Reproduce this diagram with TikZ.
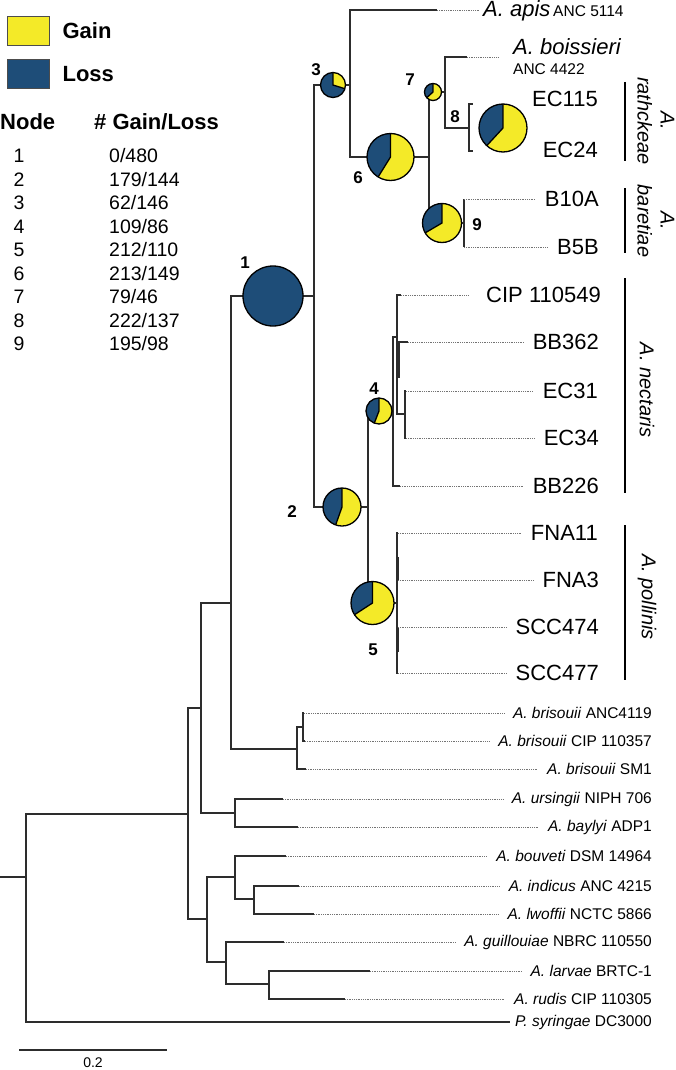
\documentclass[tikz,border=0pt]{standalone}
\usepackage{fontspec}
\setmainfont{Liberation Sans}
\usetikzlibrary{positioning}

\definecolor{gainyellow}{RGB}{244,234,40}
\definecolor{lossblue}{RGB}{30,77,120}
\definecolor{treegray}{RGB}{45,45,45}

\tikzset{
  branch/.style={draw=treegray, line width=1.3pt},
  leader/.style={draw=black!55, line width=0.6pt, dash pattern=on 0.6pt off 1.2pt, shorten >=9pt},
  bigleaf/.style={anchor=east, inner sep=0pt, font=\fontsize{22}{26}\selectfont},
  smallleaf/.style={anchor=east, inner sep=0pt, font=\fontsize{15.5}{18}\selectfont},
  cladelab/.style={rotate=-90, align=center, inner sep=0pt, font=\fontsize{20}{23}\selectfont\itshape},
  cladebar/.style={draw=black, line width=2.4pt},
  nodenum/.style={inner sep=0pt, font=\fontsize{17}{20}\selectfont\bfseries},
  pieline/.style={draw=black, line width=1.3pt},
  keybox/.style={draw=black!70, line width=0.8pt, minimum width=42pt, minimum height=29pt, inner sep=0pt},
  keytext/.style={inner sep=0pt, font=\fontsize{22}{26}\selectfont\bfseries},
  rowtext/.style={inner sep=0pt, font=\fontsize{19.5}{22}\selectfont},
}

% one pie per ancestral node: name, x, y, radius, gains, losses
\newcommand{\gainpie}[6]{%
  \node[circle, inner sep=0pt, minimum size={2*#4pt}, fill=lossblue] (#1) at (#2,#3) {};
  \fill[gainyellow] (#1.center) -- ++(90:#4pt) arc[start angle=90, delta angle={-360*(#5/(#5+#6))}, radius=#4pt] -- cycle;
  \draw[pieline] ([shift={(90:#4pt)}]#1.center) -- (#1.center) -- ++({90-360*(#5/(#5+#6))}:#4pt);
  \draw[pieline] (#1.center) circle[radius=#4pt];
}

\begin{document}
\begin{tikzpicture}[x=1pt,y=-1pt]
    \useasboundingbox (0,0) rectangle (676,1070);

    %%%%%%%%%%%%%%%%%%%%%%%%%%%%%%%%%%%%%%%%%%%%%%%%%%%%%%

    % legend
    \node[keybox, fill=gainyellow] (gainkey) at (28,30.5) {};
    \node[keytext, right=13pt of gainkey] (gaintext) {Gain};
    \node[keybox, fill=lossblue] (losskey) at (28,74) {};
    \node[keytext, right=13pt of losskey] (losstext) {Loss};

    % table of gains and losses
    \node[keytext, anchor=base west] (nodehead) at (0,130) {Node};
    \node[keytext, anchor=base west] (counthead) at (94,130) {\# Gain/Loss};
    \foreach \g/\l [count=\i] in {0/480,179/144,62/146,109/86,212/110,213/149,79/46,222/137,195/98}{
        \node[rowtext, anchor=base] (num\i) at (19,{162.5+23.5*(\i-1)}) {\i};
        \node[rowtext, anchor=base west] (val\i) at (109,{162.5+23.5*(\i-1)}) {\g/\l};
    }

    %%%%%%%%%%%%%%%%%%%%%%%%%%%%%%%%%%%%%%%%%%%%%%%%%%%%%%

    % inner nodes of the tree
    \coordinate (stub) at (0,877);
    \coordinate (root) at (26,877);
    \coordinate (ingroup) at (188,814);
    \coordinate (acn) at (201,708);
    \coordinate (lowgrp) at (207,919);
    \coordinate (nclade) at (231,603);
    \coordinate (ursb) at (235,813);
    \coordinate (bris) at (297,749);
    \coordinate (bri2) at (303,727);
    \coordinate (n1) at (314,296);
    \coordinate (n3) at (350,85);
    \coordinate (n6) at (429,157);
    \coordinate (n7) at (445,92);
    \coordinate (n8) at (469,128);
    \coordinate (n9) at (464,223);
    \coordinate (n2) at (368,507);
    \coordinate (n4) at (393,411);
    \coordinate (nec) at (397,337);
    \coordinate (ecp) at (405,414);
    \coordinate (n5) at (397,603);
    \coordinate (bouv) at (235,877);
    \coordinate (indl) at (254,899);
    \coordinate (guil) at (226,962);
    \coordinate (lr) at (269,984);

    % tips
    \coordinate (lapis) at (437,10);
    \coordinate (lbois) at (467,57);
    \coordinate (lec115) at (473,104);
    \coordinate (lec24) at (473,151);
    \coordinate (lb10a) at (464,199);
    \coordinate (lb5b) at (464,247);
    \coordinate (lcip) at (401,295);
    \coordinate (lbb362) at (408,342);
    \coordinate (lec31) at (406,391);
    \coordinate (lec34) at (406,438);
    \coordinate (lbb226) at (400,486);
    \coordinate (lfna11) at (398,533);
    \coordinate (lfna3) at (398,580);
    \coordinate (lscc474) at (398,627);
    \coordinate (lscc477) at (398,673);
    \coordinate (lanc) at (304,713);
    \coordinate (lcipb) at (305,741);
    \coordinate (lsm1) at (306,769);
    \coordinate (lurs) at (283,799);
    \coordinate (lbay) at (298,827);
    \coordinate (lbouv) at (286,856);
    \coordinate (lind) at (299,886);
    \coordinate (lwof) at (314,914);
    \coordinate (lgui) at (284,942);
    \coordinate (llar) at (370,971);
    \coordinate (lrud) at (345,999);

    % branches
    \draw[branch] (stub) -- (root);
    \foreach \p/\c in {root/ingroup, ingroup/acn, ingroup/lowgrp, acn/nclade, acn/ursb,
        nclade/n1, nclade/bris, n1/n3, n1/n2, n3/lapis, n3/n6, n6/n7, n6/n9,
        n7/lbois, n7/n8, n8/lec115, n8/lec24, n9/lb10a, n9/lb5b,
        n2/n4, n2/n5, n4/nec, n4/lbb226, nec/lcip, nec/lbb362, nec/ecp, ecp/lec31, ecp/lec34,
        n5/lfna11, n5/lfna3, n5/lscc474, n5/lscc477,
        bris/bri2, bris/lsm1, bri2/lanc, bri2/lcipb, ursb/lurs, ursb/lbay,
        lowgrp/bouv, lowgrp/guil, bouv/lbouv, bouv/indl, indl/lind, indl/lwof,
        guil/lgui, guil/lr, lr/llar, lr/lrud}
        \draw[branch] (\p) |- (\c);

    % short thick pieces where branches lie on each other
    \draw[branch, line width=2.2pt] (398.5,342) -- (398.5,378);
    \draw[branch, line width=2.2pt] (398,557) -- (398,580);
    \draw[branch, line width=2.2pt] (398,628) -- (398,652);

    %%%%%%%%%%%%%%%%%%%%%%%%%%%%%%%%%%%%%%%%%%%%%%%%%%%%%%

    % upper tips
    \node[anchor=base west, inner sep=0pt] (apis) at (483,17)
        {{\fontsize{22}{26}\selectfont\itshape A. apis} {\fontsize{15.5}{18}\selectfont ANC 5114}};
    \node[anchor=base west, inner sep=0pt, font=\fontsize{22}{26}\selectfont\itshape] (bois) at (513,55) {A. boissieri};
    \node[anchor=base west, inner sep=0pt, font=\fontsize{15.5}{18}\selectfont] (boisstrain) at (513,75) {ANC 4422};
    \node[bigleaf] (ec115) at (598,99) {EC115};
    \node[bigleaf] (ec24) at (598,150) {EC24};
    \node[bigleaf] (b10a) at (599,199) {B10A};
    \node[bigleaf] (b5b) at (599,247) {B5B};
    \node[bigleaf] (cip) at (601,295) {CIP 110549};
    \node[bigleaf] (bb362) at (599,342) {BB362};
    \node[bigleaf] (ec31) at (598,391) {EC31};
    \node[bigleaf] (ec34) at (599,438) {EC34};
    \node[bigleaf] (bb226) at (599,486) {BB226};
    \node[bigleaf] (fna11) at (598,533) {FNA11};
    \node[bigleaf] (fna3) at (599,580) {FNA3};
    \node[bigleaf] (scc474) at (599,627) {SCC474};
    \node[bigleaf] (scc477) at (599,673) {SCC477};

    % lower tips
    \node[smallleaf] (anc) at (652,713) {\textit{A. brisouii} ANC4119};
    \node[smallleaf] (cipb) at (652,741) {\textit{A. brisouii} CIP 110357};
    \node[smallleaf] (sm1) at (652,769) {\textit{A. brisouii} SM1};
    \node[smallleaf] (urs) at (652,799) {\textit{A. ursingii} NIPH 706};
    \node[smallleaf] (bay) at (652,827) {\textit{A. baylyi} ADP1};
    \node[smallleaf] (bouveti) at (652,856) {\textit{A. bouveti} DSM 14964};
    \node[smallleaf] (ind) at (652,886) {\textit{A. indicus} ANC 4215};
    \node[smallleaf] (lwo) at (652,914) {\textit{A. lwoffii} NCTC 5866};
    \node[smallleaf] (gui) at (652,942) {\textit{A. guillouiae} NBRC 110550};
    \node[smallleaf] (lar) at (652,971) {\textit{A. larvae} BRTC-1};
    \node[smallleaf] (rud) at (652,999) {\textit{A. rudis} CIP 110305};
    \node[smallleaf] (syr) at (652,1022) {\textit{P. syringae} DC3000};

    % outgroup runs solid up to its name
    \draw[branch, shorten >=5pt] (root) |- (syr.west);

    % dotted leaders
    \draw[leader, shorten >=3pt] (lapis) -- (apis.west |- lapis);
    \draw[leader, shorten >=15pt] (lbois) -- (bois.west |- lbois);
    \draw[leader, shorten >=18pt] (lcip) -- (cip.west |- lcip);
    \foreach \t/\n in {lb10a/b10a, lb5b/b5b, lbb362/bb362, lec31/ec31, lec34/ec34, lbb226/bb226,
        lfna11/fna11, lfna3/fna3, lscc474/scc474, lscc477/scc477,
        lanc/anc, lcipb/cipb, lsm1/sm1, lurs/urs, lbay/bay, lbouv/bouveti,
        lind/ind, lwof/lwo, lgui/gui, llar/lar, lrud/rud}
        \draw[leader] (\t) -- (\n.west |- \t);

    %%%%%%%%%%%%%%%%%%%%%%%%%%%%%%%%%%%%%%%%%%%%%%%%%%%%%%

    % species bars
    \coordinate (rathA) at (625,82);
    \coordinate (rathB) at (625,161);
    \coordinate (bareA) at (625,188);
    \coordinate (bareB) at (625,253);
    \coordinate (necA) at (625,278);
    \coordinate (necB) at (625,493);
    \coordinate (polA) at (625,525);
    \coordinate (polB) at (625,680);
    \draw[cladebar] (rathA) -- (rathB);
    \draw[cladebar] (bareA) -- (bareB);
    \draw[cladebar] (necA) -- (necB);
    \draw[cladebar] (polA) -- (polB);
    \node[cladelab] (rathlab) at (656,121) {A.\\rathckeae};
    \node[cladelab] (barelab) at (656,221) {A.\\baretiae};
    \node[cladelab] (neclab) at (647,390) {A. nectaris};
    \node[cladelab] (pollab) at (647,597) {A. pollinis};

    %%%%%%%%%%%%%%%%%%%%%%%%%%%%%%%%%%%%%%%%%%%%%%%%%%%%%%

    % gains and losses on the nodes
    \node[circle, inner sep=0pt, minimum size=60pt, fill=lossblue] (pie1) at (273,296) {};
    \draw[pieline] (pie1.center) circle[radius=30pt];
    \gainpie{pie2}{342}{507}{19}{179}{144}
    \gainpie{pie3}{333}{85}{12.5}{62}{146}
    \gainpie{pie4}{379}{411}{13}{109}{86}
    \gainpie{pie5}{372.5}{603}{21.5}{212}{110}
    \gainpie{pie6}{390.5}{157}{23.5}{213}{149}
    \gainpie{pie7}{433}{92}{8.5}{79}{46}
    \gainpie{pie8}{503}{128}{24}{222}{137}
    \gainpie{pie9}{442}{223}{19.5}{195}{98}

    % node numbers
    \node[nodenum] (lab1) at (245,263) {1};
    \node[nodenum] (lab2) at (292,512) {2};
    \node[nodenum] (lab3) at (316,70) {3};
    \node[nodenum] (lab4) at (374,389) {4};
    \node[nodenum] (lab5) at (373,650) {5};
    \node[nodenum] (lab6) at (358,178) {6};
    \node[nodenum] (lab7) at (410,80) {7};
    \node[nodenum] (lab8) at (455,117) {8};
    \node[nodenum] (lab9) at (477,225) {9};

    %%%%%%%%%%%%%%%%%%%%%%%%%%%%%%%%%%%%%%%%%%%%%%%%%%%%%%

    % scale bar
    \coordinate (barL) at (19,1050);
    \coordinate (barR) at (167,1050);
    \draw[branch] (barL) -- (barR);
    \node[inner sep=0pt, font=\fontsize{14}{16}\selectfont] (barlab) at (93,1063) {0.2};

\end{tikzpicture}
\end{document}
